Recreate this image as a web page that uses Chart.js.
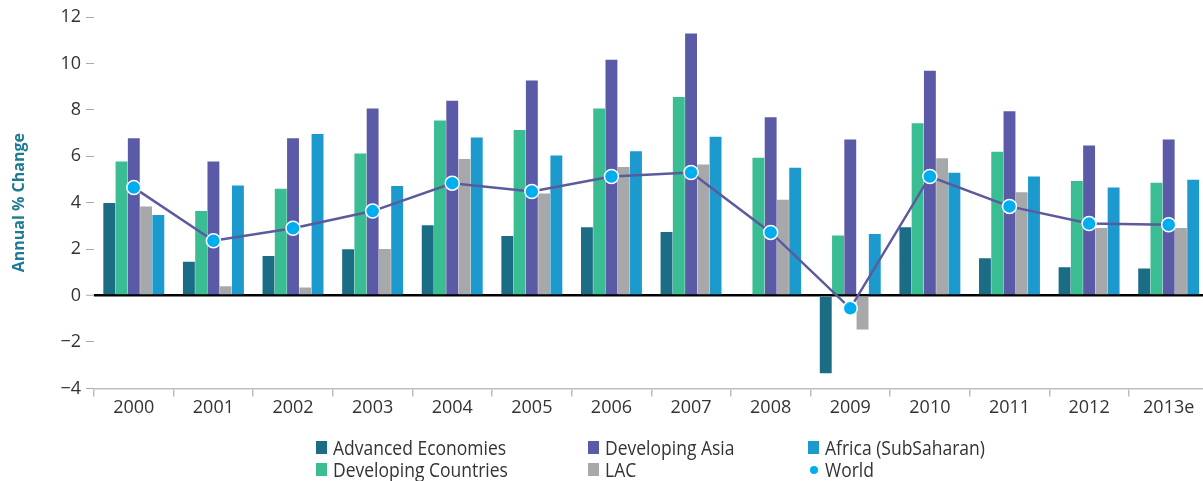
<!DOCTYPE html>
<html>
<head>
<meta charset="utf-8">
<script src="https://cdn.jsdelivr.net/npm/chart.js@4.4.0/dist/chart.umd.min.js"></script>
<style>
  html, body { margin: 0; padding: 0; background: #fff; overflow: hidden; }
  #wrap { position: relative; width: 1203px; height: 481px; overflow: hidden; }
  #c { position: absolute; left: 0; top: 0; }
  #legend { position: absolute; left: 0; top: 0; width: 1203px; height: 481px; pointer-events: none;
    font-family: 'Open Sans', sans-serif; font-size: 20px; color: #333; }
  .li { position: absolute; white-space: nowrap; line-height: 22px; height: 22px; }
  .tx { position: absolute; left: 17px; top: 0; display: inline-block; transform: scaleX(0.875); transform-origin: 0 50%; }
  .sw { position: absolute; left: 0; width: 11px; height: 13px; top: 4px; }
  .dot { position: absolute; left: 2px; width: 8px; height: 8px; border-radius: 50%; top: 7px; }
</style>
</head>
<body>
<div id="wrap">
  <canvas id="c" width="1217" height="481"></canvas>
  <div id="legend"></div>
</div>
<script>
const categories = ['2000','2001','2002','2003','2004','2005','2006','2007','2008','2009','2010','2011','2012','2013e'];
const advancedEconomies  = [3.99, 1.46, 1.70, 1.99, 3.03, 2.57, 2.94, 2.74, 0.0, -3.35, 2.94, 1.61, 1.22, 1.16];
const developingCountries = [5.77, 3.64, 4.60, 6.12, 7.54, 7.13, 8.06, 8.55, 5.94, 2.59, 7.42, 6.20, 4.94, 4.86];
const developingAsia     = [6.78, 5.77, 6.78, 8.06, 8.39, 9.26, 10.16, 11.29, 7.68, 6.72, 9.68, 7.94, 6.46, 6.72];
const lac                = [3.84, 0.40, 0.35, 2.01, 5.88, 4.40, 5.54, 5.65, 4.13, -1.46, 5.91, 4.45, 2.91, 2.91];
const africaSubSaharan   = [3.47, 4.74, 6.96, 4.72, 6.81, 6.03, 6.22, 6.84, 5.51, 2.65, 5.29, 5.13, 4.65, 4.99];
const world              = [4.65, 2.36, 2.90, 3.64, 4.84, 4.48, 5.13, 5.30, 2.72, -0.55, 5.13, 3.84, 3.10, 3.05];
const yTicks = [-4, -2, 0, 2, 4, 6, 8, 10, 12];

const colors = {
  adv: '#1b6d86', devc: '#3abd93', asia: '#5a5aa7', lac: '#a7a8aa', africa: '#1c9acd', world: '#00aeef', worldLine: '#5c5a9e'
};

function barDs(label, data, color) {
  return { type: 'bar', label, data, backgroundColor: color, borderWidth: 0,
    categoryPercentage: 0.77, barPercentage: 0.97, order: 1 };
}

new Chart(document.getElementById('c'), {
  type: 'bar',
  data: {
    labels: categories,
    datasets: [
      { type: 'line', label: 'World', data: world, borderColor: colors.worldLine, borderWidth: 2.5,
        pointRadius: 7, pointBackgroundColor: colors.world, pointBorderColor: '#fff', pointBorderWidth: 1.5,
        tension: 0, order: -1 },
      barDs('Advanced Economies', advancedEconomies, colors.adv),
      barDs('Developing Countries', developingCountries, colors.devc),
      barDs('Developing Asia', developingAsia, colors.asia),
      barDs('LAC', lac, colors.lac),
      barDs('Africa (SubSaharan)', africaSubSaharan, colors.africa)
    ]
  },
  options: {
    responsive: false,
    animation: false,
    layout: { padding: { top: 17, left: 0, right: 0, bottom: 61 } },
    plugins: { legend: { display: false }, tooltip: { enabled: false } },
    scales: {
      x: {
        offset: true,
        grid: { offset: true, drawOnChartArea: false, tickLength: 8, color: '#bdbdbd', lineWidth: 1.5 },
        border: { display: true, color: '#bdbdbd', width: 1.5 },
        ticks: { color: '#333', font: { family: "'Open Sans', sans-serif", size: 18 }, padding: 1, maxRotation: 0 }
      },
      y: {
        min: -4, max: 12,
        afterBuildTicks: (s) => { s.ticks = yTicks.map(v => ({ value: v })); },
        afterFit: (s) => { s.width = 94; },
        grid: {
          drawOnChartArea: true,
          tickLength: 8,
          color: (ctx) => (ctx.tick && ctx.tick.value === 0) ? '#000' : 'rgba(0,0,0,0)',
          lineWidth: (ctx) => (ctx.tick && ctx.tick.value === 0) ? 2.5 : 1,
          tickColor: '#aaa',
          tickWidth: 1
        },
        border: { display: false },
        ticks: {
          color: '#333', padding: 5,
          font: { family: "'Open Sans', sans-serif", size: 18 },
          callback: (v) => (v < 0 ? '\u2212' + Math.abs(v) : String(v))
        },
        title: {
          display: true, text: 'Annual % Change', color: '#1e7a93',
          font: { family: "'Open Sans', sans-serif", size: 16, weight: 'bold' },
          padding: { top: 10, bottom: 0 }
        }
      }
    }
  }
});

// HTML legend (columns as in reference)
const legendItems = [
  { label: 'Advanced Economies', color: colors.adv, x: 316, y: 437 },
  { label: 'Developing Countries', color: colors.devc, x: 316, y: 459 },
  { label: 'Developing Asia', color: colors.asia, x: 588, y: 437 },
  { label: 'LAC', color: colors.lac, x: 588, y: 459 },
  { label: 'Africa (SubSaharan)', color: colors.africa, x: 808, y: 437 },
  { label: 'World', color: colors.world, x: 808, y: 459, dot: true }
];
const lg = document.getElementById('legend');
legendItems.forEach(it => {
  const d = document.createElement('div');
  d.className = 'li';
  d.style.left = it.x + 'px';
  d.style.top = it.y + 'px';
  const s = document.createElement('span');
  s.className = it.dot ? 'dot' : 'sw';
  s.style.background = it.color;
  d.appendChild(s);
  const t = document.createElement('span');
  t.className = 'tx';
  t.textContent = it.label;
  d.appendChild(t);
  lg.appendChild(d);
});
</script>
</body>
</html>
